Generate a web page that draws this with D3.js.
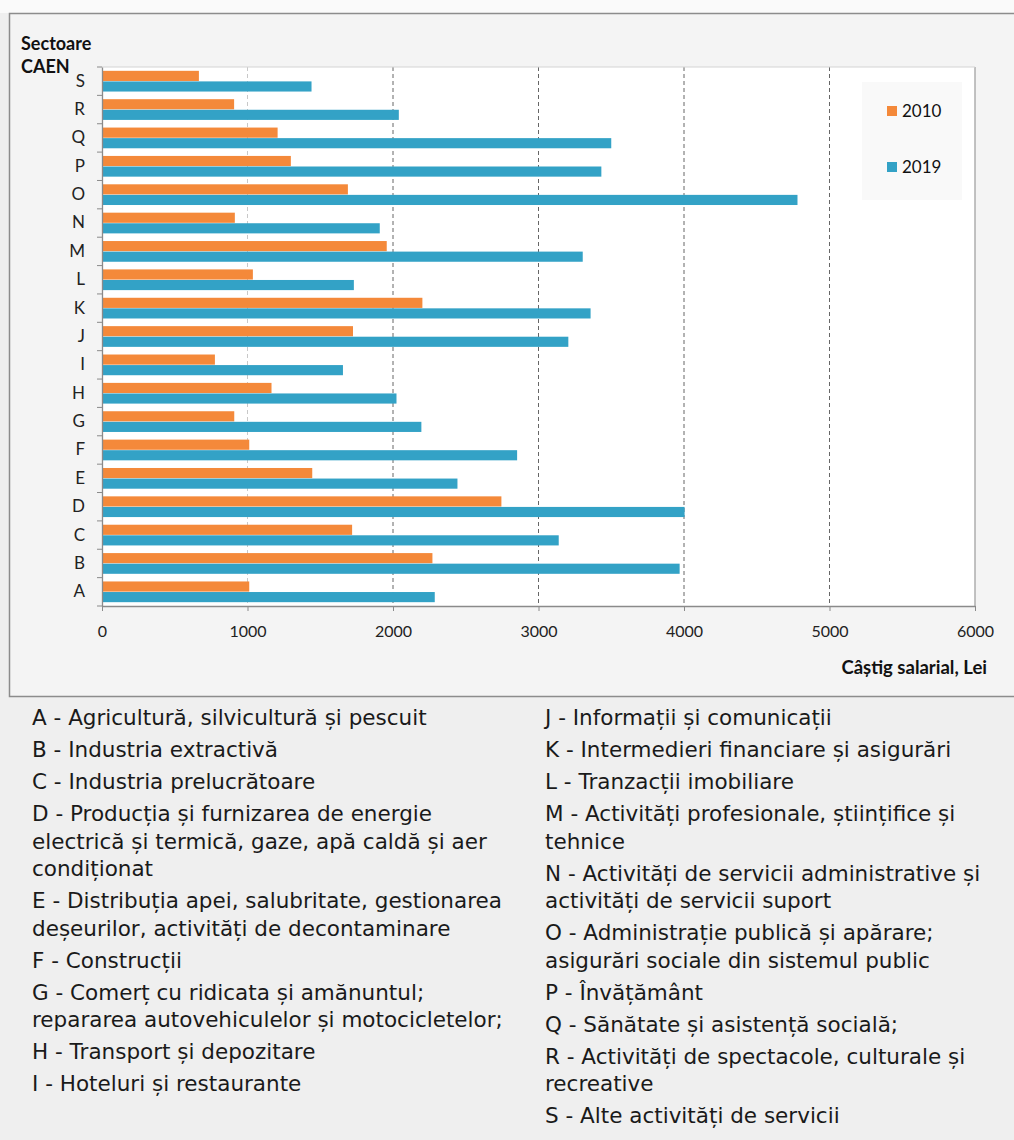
<!DOCTYPE html>
<html><head><meta charset="utf-8">
<script src="https://cdn.jsdelivr.net/npm/d3@7"></script>
<style>
html,body{margin:0;padding:0;background:#efefef;}
svg{display:block;}
</style></head>
<body>
<svg id="chart" width="1014" height="1140"></svg>
<script>
// ---- data ----
const categories = ["A","B","C","D","E","F","G","H","I","J","K","L","M","N","O","P","Q","R","S"];
const seriesNames = ["2010","2019"];
const values2010 = [1012,2271,1719,2745,1445,1012,909,1165,776,1725,2202,1037,1957,913,1690,1298,1207,908,666];
const values2019 = [2287,3970,3139,4004,2443,2853,2195,2024,1656,3205,3358,1731,3304,1909,4780,3432,3500,2040,1440];
const xTicks = [0,1000,2000,3000,4000,5000,6000];
const yTitle = ["Sectoare","CAEN"];
const xTitle = "Câștig salarial, Lei";
const notesLeft = [
  ["A - Agricultură, silvicultură și pescuit"],
  ["B - Industria extractivă"],
  ["C - Industria prelucrătoare"],
  ["D - Producția și furnizarea de energie","electrică și termică, gaze, apă caldă și aer","condiționat"],
  ["E - Distribuția apei, salubritate, gestionarea","deșeurilor, activități de decontaminare"],
  ["F - Construcții"],
  ["G - Comerț cu ridicata și amănuntul;","repararea autovehiculelor și motocicletelor;"],
  ["H - Transport și depozitare"],
  ["I - Hoteluri și restaurante"]
];
const notesRight = [
  ["J - Informații și comunicații"],
  ["K - Intermedieri financiare și asigurări"],
  ["L - Tranzacții imobiliare"],
  ["M - Activități profesionale, științifice și","tehnice"],
  ["N - Activități de servicii administrative și","activități de servicii suport"],
  ["O - Administrație publică și apărare;","asigurări sociale din sistemul public"],
  ["P - Învățământ"],
  ["Q - Sănătate și asistență socială;"],
  ["R - Activități de spectacole, culturale și","recreative"],
  ["S - Alte activități de servicii"]
];
const colors = {"2010":"#f4893a","2019":"#33a2c6"};

// ---- layout ----
const svg = d3.select("#chart");
const plot = {left:102, right:975, top:67, bottom:606};
const chartFont = "Lato, 'Open Sans', sans-serif";
const noteFont = "'DejaVu Sans', Verdana, sans-serif";

// backgrounds
svg.append("rect").attr("x",0).attr("y",0).attr("width",1014).attr("height",13).attr("fill","#fafafa");
svg.append("rect").attr("x",9.5).attr("y",13.5).attr("width",1010).attr("height",683)
  .attr("fill","#f4f4f4").attr("stroke","#8c8c8c").attr("stroke-width",1.5);
svg.append("rect").attr("x",plot.left).attr("y",plot.top).attr("width",plot.right-plot.left).attr("height",plot.bottom-plot.top)
  .attr("fill","#ffffff");
// legend box (faint)
svg.append("rect").attr("x",862).attr("y",82).attr("width",100).attr("height",118).attr("fill","#f9f9f9");

const x = d3.scaleLinear().domain([0,6000]).range([plot.left,plot.right]);
const y = d3.scaleBand().domain(categories.slice().reverse()).range([plot.top,plot.bottom])
  .paddingInner(0.24).paddingOuter(0.12);
const ySub = d3.scaleBand().domain(seriesNames).range([0,y.bandwidth()]).padding(0.04);

// gridlines
svg.append("g").selectAll("line").data(xTicks.filter(t=>t>0 && t<6000)).join("line")
  .attr("x1",d=>x(d)).attr("x2",d=>x(d)).attr("y1",plot.top).attr("y2",plot.bottom)
  .attr("stroke",d=>d===1000?"#c8c8c8":"#666").attr("stroke-width",1)
  .attr("stroke-dasharray","4,3");
// plot right border / top border
svg.append("line").attr("x1",x(6000)).attr("x2",x(6000)).attr("y1",plot.top).attr("y2",plot.bottom)
  .attr("stroke","#9a9a9a").attr("stroke-width",1.2);
svg.append("line").attr("x1",plot.left).attr("x2",plot.right).attr("y1",plot.top).attr("y2",plot.top)
  .attr("stroke","#d4d4d4").attr("stroke-width",1);

// bars
const rows = categories.map((c,i)=>({cat:c, vals:[{s:"2010",v:values2010[i]},{s:"2019",v:values2019[i]}]}));
const g = svg.append("g");
g.selectAll("g").data(rows).join("g")
  .attr("transform",d=>`translate(0,${y(d.cat)})`)
  .selectAll("rect").data(d=>d.vals).join("rect")
  .attr("x",x(0)).attr("y",d=>ySub(d.s)).attr("height",ySub.bandwidth())
  .attr("width",d=>x(d.v)-x(0)).attr("fill",d=>colors[d.s]);

// x axis
const xAxis = svg.append("g").attr("transform",`translate(0,${plot.bottom})`)
  .call(d3.axisBottom(x).tickValues(xTicks).tickSize(5).tickSizeOuter(0).tickFormat(d3.format("d")));
xAxis.select(".domain").attr("stroke","#8a8a8a").attr("stroke-width",1.3);
xAxis.selectAll(".tick line").attr("stroke","#8a8a8a");
xAxis.selectAll(".tick text").attr("font-family",chartFont).attr("font-size",16).attr("fill","#222").attr("dy","1.45em");

// y axis
const yAxis = svg.append("g").attr("transform",`translate(${plot.left},0)`)
  .call(d3.axisLeft(y).tickSize(0).tickPadding(17));
yAxis.select(".domain").attr("stroke","#8a8a8a").attr("stroke-width",1.3);
yAxis.selectAll(".tick text").attr("font-family",chartFont).attr("font-size",17).attr("fill","#222");
// boundary ticks between categories
const step = y.step();
const bounds = categories.map(c=>y(c) - step*y.paddingInner()/2).concat([y(categories[0]) + y.bandwidth() + step*y.paddingInner()/2]);
svg.append("g").selectAll("line").data(bounds).join("line")
  .attr("x1",plot.left-5).attr("x2",plot.left).attr("y1",d=>d).attr("y2",d=>d)
  .attr("stroke","#8a8a8a").attr("stroke-width",1);

// titles
svg.append("g").selectAll("text").data(yTitle).join("text")
  .attr("x",21).attr("y",(d,i)=>50+i*23).text(d=>d)
  .attr("font-family",chartFont).attr("font-weight",700).attr("font-size",18).attr("fill","#111");
svg.append("text").attr("x",987).attr("y",674).attr("text-anchor","end").text(xTitle)
  .attr("font-family",chartFont).attr("font-weight",700).attr("font-size",18.5).attr("fill","#111");

// legend
const leg = svg.append("g").selectAll("g").data(seriesNames).join("g")
  .attr("transform",(d,i)=>`translate(887,${111+i*56})`);
leg.append("rect").attr("x",0).attr("y",-5).attr("width",10).attr("height",10).attr("fill",d=>colors[d]);
leg.append("text").attr("x",15).attr("y",6).text(d=>d)
  .attr("font-family",chartFont).attr("font-size",17).attr("fill","#111");

// notes
function drawNotes(list, x0){
  let yy = 725;
  const gg = svg.append("g");
  list.forEach((para,pi)=>{
    if(pi>0) yy += 4.5;
    para.forEach((line,li)=>{
      gg.append("text").attr("x",x0).attr("y",yy).text(line)
        .attr("font-family",noteFont).attr("font-size",21.5).attr("fill","#1a1a1a");
      yy += 27.5;
    });
  });
}
drawNotes(notesLeft, 32);
drawNotes(notesRight, 545);
</script>
</body></html>
